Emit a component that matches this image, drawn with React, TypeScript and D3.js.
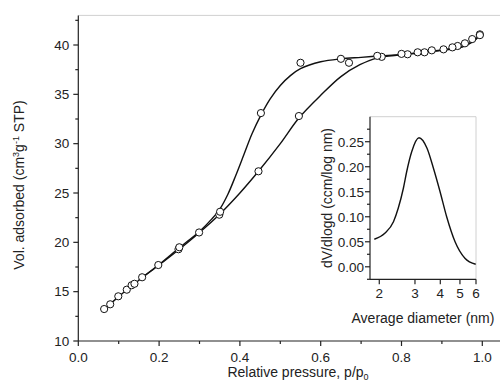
import React from "react";
import * as d3 from "d3";

// Main isotherm: scatter points
const adsP = [0.064, 0.079, 0.099, 0.12, 0.132, 0.139, 0.158, 0.198, 0.248, 0.299, 0.349, 0.446, 0.546, 0.67, 0.751, 0.815, 0.857, 0.904, 0.939, 0.975, 0.994];
const adsV = [13.24, 13.72, 14.53, 15.2, 15.65, 15.8, 16.46, 17.7, 19.3, 21.0, 22.8, 27.2, 32.8, 38.2, 38.8, 39.06, 39.26, 39.56, 39.9, 40.6, 41.08];
const desP = [0.994, 0.957, 0.926, 0.875, 0.84, 0.80, 0.74, 0.65, 0.55, 0.452, 0.351, 0.25];
const desV = [41.0, 40.17, 39.76, 39.46, 39.26, 39.1, 38.9, 38.6, 38.2, 33.1, 23.1, 19.5];

// Main isotherm: fitted curves
const adsFitP = [0.064, 0.1, 0.15, 0.2, 0.25, 0.3, 0.35, 0.4, 0.446, 0.5, 0.546, 0.6, 0.65, 0.697, 0.74, 0.8, 0.85, 0.9, 0.95, 0.975, 0.994];
const adsFitV = [13.2, 14.5, 16.15, 17.7, 19.3, 21.0, 22.85, 25.0, 27.2, 30.0, 32.6, 34.9, 36.8, 38.0, 38.7, 39.0, 39.2, 39.45, 39.8, 40.3, 40.95];
const desFitP = [0.15, 0.2, 0.25, 0.3, 0.33, 0.35, 0.37, 0.39, 0.41, 0.43, 0.452, 0.475, 0.5, 0.525, 0.55, 0.6, 0.65, 0.7, 0.75, 0.8, 0.85, 0.9, 0.95, 0.975, 0.994];
const desFitV = [16.2, 17.75, 19.45, 21.1, 22.35, 23.35, 24.85, 26.8, 28.9, 31.0, 32.9, 34.55, 35.9, 36.9, 37.6, 38.3, 38.6, 38.75, 38.9, 39.05, 39.25, 39.5, 39.85, 40.35, 41.0];

// Inset: pore size distribution
const poreD = [1.89, 2.13, 2.35, 2.48, 2.63, 2.73, 2.89, 3.14, 3.44, 3.70, 3.99, 4.30, 4.73, 5.29, 5.98];
const poreV = [0.055, 0.067, 0.090, 0.117, 0.157, 0.19, 0.23, 0.258, 0.237, 0.197, 0.15, 0.10, 0.05, 0.017, 0.005];

const xTicks = [0.0, 0.2, 0.4, 0.6, 0.8, 1.0];
const xMinor = [0.1, 0.3, 0.5, 0.7, 0.9];
const yTicks = [10, 15, 20, 25, 30, 35, 40];
const yMinor = [12.5, 17.5, 22.5, 27.5, 32.5, 37.5, 42.5];
const iyTicks = [0.0, 0.05, 0.1, 0.15, 0.2, 0.25];
const iyMinor = [-0.025, 0.025, 0.075, 0.125, 0.175, 0.225, 0.275];
const ixTicks = [2, 3, 4, 5, 6];

const FONT = "Liberation Sans, Arial, sans-serif";

export default function App() {
  const x = d3.scaleLinear().domain([0, 1]).range([78.3, 482.3]);
  const y = d3.scaleLinear().domain([10, 43]).range([341, 15.4]);
  const xi = d3.scaleLog().domain([1.8, 6]).range([370, 476]);
  const yi = d3.scaleLinear().domain([-0.025, 0.3]).range([279.3, 116.7]);

  const line = d3
    .line<[number, number]>()
    .x((d) => x(d[0]))
    .y((d) => y(d[1]))
    .curve(d3.curveCatmullRom.alpha(0.5));
  const adsFit = adsFitP.map((p, i) => [p, adsFitV[i]] as [number, number]);
  const desFit = desFitP.map((p, i) => [p, desFitV[i]] as [number, number]);
  const inLine = d3
    .line<[number, number]>()
    .x((d) => xi(d[0]))
    .y((d) => yi(d[1]))
    .curve(d3.curveMonotoneX);
  const pore = poreD.map((d, i) => [d, poreV[i]] as [number, number]);

  const pts = [
    ...adsP.map((p, i) => [p, adsV[i]]),
    ...desP.map((p, i) => [p, desV[i]]),
  ];

  const x0 = x.range()[0];
  const yb = y.range()[0];
  const ixl = xi.range()[0];
  const iyb = yi.range()[0];

  return (
    <svg width={500} height={381} style={{ position: "absolute", left: 0, top: 0, background: "#fff" }} fontFamily={FONT}>
      <rect width={500} height={381} fill="#fff" />
      {/* main frame */}
      <line x1={x0} x2={500} y1={15.4} y2={15.4} stroke="#d0d0d0" strokeWidth={1} />
      <line x1={x0} x2={500} y1={yb} y2={yb} stroke="#222" strokeWidth={1.2} />
      <line x1={x0} x2={x0} y1={15.4} y2={yb} stroke="#222" strokeWidth={1.2} />
      {xTicks.map((t) => (
        <g key={"xt" + t}>
          <line x1={x(t)} x2={x(t)} y1={yb} y2={yb + 5} stroke="#222" strokeWidth={1.2} />
          <text x={x(t)} y={yb + 21} fontSize={13.5} textAnchor="middle" fill="#222">
            {t.toFixed(1)}
          </text>
        </g>
      ))}
      {xMinor.map((t) => (
        <line key={"xm" + t} x1={x(t)} x2={x(t)} y1={yb} y2={yb + 3} stroke="#222" strokeWidth={1.2} />
      ))}
      {yTicks.map((t) => (
        <g key={"yt" + t}>
          <line x1={x0 - 5} x2={x0} y1={y(t)} y2={y(t)} stroke="#222" strokeWidth={1.2} />
          <text x={x0 - 9} y={y(t) + 4.8} fontSize={13.5} textAnchor="end" fill="#222">
            {t}
          </text>
        </g>
      ))}
      {yMinor.map((t) => (
        <line key={"ym" + t} x1={x0 - 3} x2={x0} y1={y(t)} y2={y(t)} stroke="#222" strokeWidth={1.2} />
      ))}
      <text x={298} y={376.5} fontSize={14} textAnchor="middle" fill="#222">
        Relative pressure, p/p<tspan fontSize={9} dy={3}>0</tspan>
      </text>
      <text transform="translate(24,185) rotate(-90)" fontSize={14} textAnchor="middle" fill="#222">
        Vol. adsorbed (cm<tspan fontSize={9} dy={-5}>3</tspan>
        <tspan dy={5}>g</tspan>
        <tspan fontSize={9} dy={-5}>-1</tspan>
        <tspan dy={5}> STP)</tspan>
      </text>

      {/* curves */}
      <path d={line(adsFit) || ""} fill="none" stroke="#111" strokeWidth={1.4} />
      <path d={line(desFit) || ""} fill="none" stroke="#111" strokeWidth={1.4} />
      {pts.map((d, i) => (
        <circle key={"p" + i} cx={x(d[0])} cy={y(d[1])} r={3.6} fill="#fff" stroke="#111" strokeWidth={1} />
      ))}

      {/* inset */}
      <rect x={ixl} y={116.7} width={476 - ixl} height={iyb - 116.7} fill="#fff" stroke="none" />
      <line x1={ixl} x2={476} y1={116.7} y2={116.7} stroke="#d0d0d0" strokeWidth={1} />
      <line x1={476} x2={476} y1={116.7} y2={iyb} stroke="#d0d0d0" strokeWidth={1} />
      <line x1={ixl} x2={476} y1={iyb} y2={iyb} stroke="#222" strokeWidth={1.2} />
      <line x1={ixl} x2={ixl} y1={116.7} y2={iyb} stroke="#222" strokeWidth={1.2} />
      {iyTicks.map((t) => (
        <g key={"iyt" + t}>
          <line x1={ixl - 5} x2={ixl} y1={yi(t)} y2={yi(t)} stroke="#222" strokeWidth={1.2} />
          <text x={ixl - 6} y={yi(t) + 4.8} fontSize={13.5} textAnchor="end" fill="#222">
            {t.toFixed(2)}
          </text>
        </g>
      ))}
      {iyMinor.map((t) => (
        <line key={"iym" + t} x1={ixl - 3} x2={ixl} y1={yi(t)} y2={yi(t)} stroke="#222" strokeWidth={1.2} />
      ))}
      {ixTicks.map((t) => (
        <g key={"ixt" + t}>
          <line x1={xi(t)} x2={xi(t)} y1={iyb} y2={iyb + 5} stroke="#222" strokeWidth={1.2} />
          <text x={xi(t)} y={iyb + 19} fontSize={13.5} textAnchor="middle" fill="#222">
            {t}
          </text>
        </g>
      ))}
      <path d={inLine(pore) || ""} fill="none" stroke="#111" strokeWidth={1.4} />
      <text x={423} y={322.5} fontSize={14} textAnchor="middle" fill="#222">
        Average diameter (nm)
      </text>
      <text transform="translate(332,198) rotate(-90)" fontSize={14} textAnchor="middle" fill="#222">
        dV/dlogd (ccm/log nm)
      </text>
    </svg>
  );
}
